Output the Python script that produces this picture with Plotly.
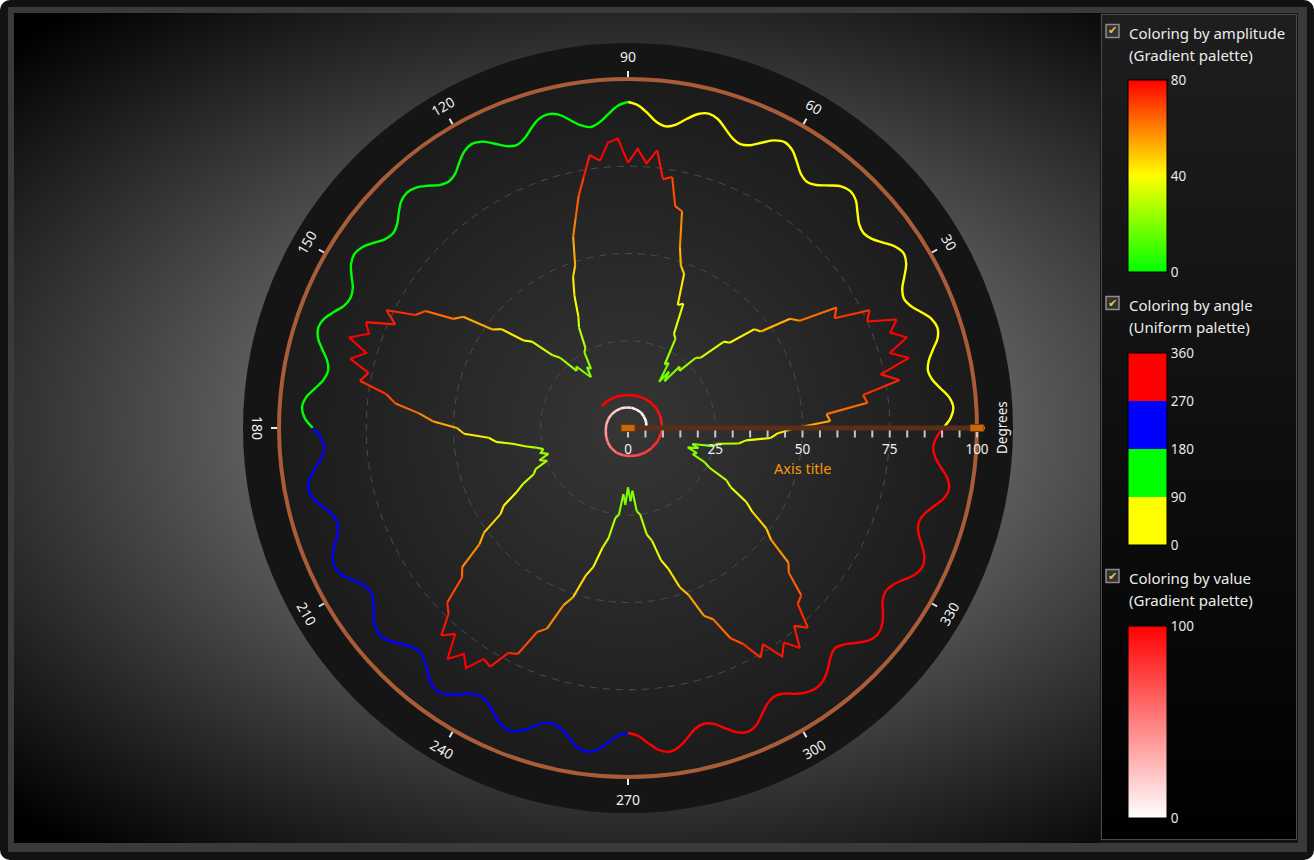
import base64
import math
import plotly.graph_objects as go

W, H = 1314, 860

# ---------------- data ----------------
# Flower-shaped series, coloured by amplitude (gradient palette 0..80)
flower_theta = list(range(0, 360, 2))
flower_r = [48, 58, 57, 69, 68, 79, 74, 83, 78, 84, 80, 83, 75, 77, 67, 69, 58, 56, 47, 46,
            38, 37, 29, 28, 22, 23, 17, 20, 16, 22, 21, 29, 30, 39, 38, 47, 49, 54, 64, 65,
            73, 72, 80, 76, 80, 76, 83, 82, 77, 79, 73, 68, 62, 57, 49, 46, 41, 35, 32, 26,
            25, 20, 21, 18, 20, 23, 22, 28, 30, 37, 39, 46, 48, 57, 59, 67, 69, 77, 73, 81,
            79, 84, 78, 82, 76, 78, 70, 67, 60, 56, 49, 47, 40, 38, 33, 30, 27, 25, 26, 24,
            27, 25, 29, 30, 34, 37, 42, 44, 51, 54, 62, 64, 72, 74, 80, 77, 84, 80, 83, 78,
            79, 73, 72, 64, 62, 54, 51, 44, 41, 35, 32, 26, 25, 19, 22, 17, 21, 18, 24, 25,
            31, 33, 39, 42, 48, 51, 58, 60, 67, 70, 76, 73, 79, 76, 80, 74, 77, 70, 69, 62,
            60, 52, 49, 43, 40, 34, 32, 26, 24, 20, 21, 18, 21, 19, 25, 26, 32, 34, 41, 43]

# Wavy ring series, coloured by angle (uniform palette 0/90/180/270/360), one value every 1.8 deg
wave_theta = [round(i * 1.8, 1) for i in range(200)]
wave_r = [90.3, 92.5, 93.4, 92.5, 90.3, 88.3, 87.5, 88.3,
          90.2, 92.4, 93.2, 92.4, 90.3, 88.2, 87.3, 88.2,
          90.4, 92.6, 93.5, 92.5, 90.4, 88.4, 87.6, 88.3,
          90.2, 92.3, 93.1, 92.3, 90.2, 88.1, 87.2, 88.1,
          90.3, 92.5, 93.4, 92.5, 90.4, 88.3, 87.5, 88.3,
          90.2, 92.2, 93.0, 92.2, 90.2, 88.0, 87.1, 88.0,
          90.3, 92.5, 93.4, 92.4, 90.1, 87.9, 86.9, 87.9,
          90.0, 92.1, 92.8, 92.1, 90.1, 88.0, 87.1, 88.0,
          90.1, 92.1, 92.9, 92.1, 90.2, 88.1, 87.3, 88.1,
          90.1, 91.8, 92.5, 91.9, 90.1, 88.2, 87.4, 88.2,
          90.2, 92.1, 92.9, 92.2, 90.4, 88.5, 87.8, 88.5,
          90.5, 92.5, 93.3, 92.5, 90.4, 88.3, 87.5, 88.3,
          90.4, 92.7, 93.6, 92.7, 90.3, 88.1, 87.2, 88.1,
          90.2, 92.4, 93.2, 92.4, 90.4, 88.4, 87.6, 88.4,
          90.3, 92.2, 93.0, 92.3, 90.2, 88.2, 87.4, 88.2,
          90.1, 91.9, 92.6, 91.9, 90.1, 88.4, 87.6, 88.4,
          90.2, 92.3, 93.1, 92.3, 90.4, 88.5, 87.7, 88.5,
          90.3, 92.3, 93.1, 92.3, 90.3, 88.2, 87.4, 88.2,
          90.3, 92.6, 93.5, 92.6, 90.3, 88.2, 87.4, 88.2,
          90.4, 92.6, 93.5, 92.6, 90.5, 88.3, 87.5, 88.3,
          90.5, 92.7, 93.6, 92.7, 90.4, 88.4, 87.6, 88.4,
          90.2, 91.5, 92.0, 91.4, 89.8, 87.7, 86.6, 87.7,
          89.9, 92.0, 92.8, 92.1, 90.3, 88.2, 87.4, 88.2,
          90.2, 92.4, 93.3, 92.5, 90.5, 88.4, 87.6, 88.4,
          90.4, 92.7, 93.6, 92.7, 90.4, 88.4, 87.6, 88.4]

# Small spiral near the centre, coloured by value (gradient palette 0..100)
spiral_theta = [5, 20, 35, 50, 65, 80, 95, 110, 125, 140, 155, 170, 185, 200, 215, 230, 245,
                260, 275, 290, 305, 320, 335, 350, 365, 380, 395, 410, 425, 440, 455, 470, 485, 500]
spiral_r = [5.3, 5.5, 5.6, 5.8, 5.8, 5.9, 5.9, 6.0, 6.0, 6.1, 6.2, 6.3, 6.4, 6.7, 7.1, 7.5, 7.8,
            7.95, 8.05, 8.3, 8.6, 8.9, 9.3, 9.6, 9.75, 9.85, 9.9, 9.8, 9.65, 9.55, 9.5, 9.6, 9.7, 9.8]
spiral_value = [0, 2, 4, 6, 8, 10, 12, 15, 19, 24, 29, 34, 40, 45, 50, 55, 60,
                64, 68, 72, 76, 80, 84, 88, 91, 94, 96, 98, 99, 100, 100, 100, 100, 100]

angle_labels = [30, 60, 90, 120, 150, 180, 210, 240, 270, 300, 330]
radial_ticks = list(range(0, 101, 5))
radial_major = [0, 25, 50, 75, 100]
grid_circles = [25, 50, 75]

amp_ticks = [0, 40, 80]
angle_ticks = [0, 90, 180, 270, 360]
value_ticks = [0, 100]

legend_titles = [("Coloring by amplitude", "(Gradient palette)"),
                 ("Coloring by angle", "(Uniform palette)"),
                 ("Coloring by value", "(Gradient palette)")]

# ---------------- geometry / style ----------------
CX, CY, R100 = 628, 428, 349
LABEL_R = 371
FONT = "Noto Sans, Open Sans, sans-serif"


def pxx(x):
    return x / W


def pxy(y):
    return 1 - y / H


def amp_rgb(t):
    t = max(0.0, min(1.0, t))
    if t <= 0.5:
        return (int(round(510 * t)), 255, 0)
    return (255, int(round(255 - 510 * (t - 0.5))), 0)


def value_rgb(t):
    t = max(0.0, min(1.0, t))
    g = int(round(255 * (1 - t)))
    return (255, g, g)


QUAD_COLORS = ["#ffff00", "#00ff00", "#0000ff", "#ff0000"]

amp_scale = [[0, "#00ff00"], [0.5, "#ffff00"], [0.75, "#ff8000"], [1, "#ff0000"]]
angle_scale = [[0, "#ffff00"], [0.25, "#ffff00"], [0.25, "#00ff00"], [0.5, "#00ff00"],
               [0.5, "#0000ff"], [0.75, "#0000ff"], [0.75, "#ff0000"], [1, "#ff0000"]]
value_scale = [[0, "#ffffff"], [1, "#ff0000"]]


def colored_runs(rs, ths, keys, closed):
    """Split a polyline into runs of consecutive segments sharing the same key."""
    pr = list(rs)
    pt = list(ths)
    if closed:
        pr.append(rs[0])
        pt.append(ths[0] + 360)
    groups = {}
    i = 0
    nseg = len(pr) - 1
    while i < nseg:
        k = keys[i]
        j = i
        while j + 1 < nseg and keys[j + 1] == k:
            j += 1
        g = groups.setdefault(k, {"r": [], "t": []})
        if g["r"]:
            g["r"].append(None)
            g["t"].append(None)
        g["r"].extend(pr[i:j + 2])
        g["t"].extend(pt[i:j + 2])
        i = j + 1
    return groups


fig = go.Figure()

# --- wavy ring coloured by angle quadrant ---
nw = len(wave_r)
wave_keys = []
for i in range(nw):
    t0 = wave_theta[i]
    t1 = wave_theta[i + 1] if i + 1 < nw else 360
    wave_keys.append(int(((t0 + t1) / 2) // 90) % 4)
for k, g in colored_runs(wave_r, wave_theta, wave_keys, True).items():
    fig.add_trace(go.Scatterpolar(r=g["r"], theta=g["t"], mode="lines",
                                  line=dict(color=QUAD_COLORS[k], width=2.4, shape="spline", smoothing=1),
                                  hoverinfo="skip", showlegend=False))

# --- flower coloured by amplitude ---
NB = 48
nf = len(flower_r)
flower_keys = []
for i in range(nf):
    v = (flower_r[i] + flower_r[(i + 1) % nf]) / 2
    flower_keys.append(int(round(max(0, min(1, v / 80)) * NB)))
for k, g in colored_runs(flower_r, flower_theta, flower_keys, True).items():
    c = amp_rgb(k / NB)
    fig.add_trace(go.Scatterpolar(r=g["r"], theta=g["t"], mode="lines",
                                  line=dict(color="rgb(%d,%d,%d)" % c, width=2.1),
                                  hoverinfo="skip", showlegend=False))

# --- spiral coloured by value ---
ns = len(spiral_r)
spiral_keys = []
for i in range(ns - 1):
    v = (spiral_value[i] + spiral_value[i + 1]) / 2
    spiral_keys.append(int(round(v / 100 * NB)))
for k, g in colored_runs(spiral_r, spiral_theta, spiral_keys, False).items():
    c = value_rgb(k / NB)
    fig.add_trace(go.Scatterpolar(r=g["r"], theta=g["t"], mode="lines",
                                  line=dict(color="rgb(%d,%d,%d)" % c, width=2.6),
                                  hoverinfo="skip", showlegend=False))


# --- colour bars (invisible marker traces) ---
def cbar(y_top, tickvals):
    return dict(x=pxx(1128), xanchor="left", y=pxy(y_top), yanchor="top",
                len=192, lenmode="pixels", thickness=39, thicknessmode="pixels",
                xpad=0, ypad=0, outlinewidth=1, outlinecolor="#000000",
                tickvals=tickvals, ticks="", ticklabelposition="outside",
                tickfont=dict(color="#e8e8e8", size=13.5, family=FONT),
                bgcolor="rgba(0,0,0,0)", borderwidth=0)


fig.add_trace(go.Scatterpolar(r=flower_r, theta=flower_theta, mode="markers",
                              marker=dict(size=1, opacity=0, color=flower_r, cmin=0, cmax=80,
                                          colorscale=amp_scale, showscale=True,
                                          colorbar=cbar(80, amp_ticks)),
                              hoverinfo="skip", showlegend=False))
fig.add_trace(go.Scatterpolar(r=wave_r, theta=wave_theta, mode="markers",
                              marker=dict(size=1, opacity=0, color=wave_theta, cmin=0, cmax=360,
                                          colorscale=angle_scale, showscale=True,
                                          colorbar=cbar(353, angle_ticks)),
                              hoverinfo="skip", showlegend=False))
fig.add_trace(go.Scatterpolar(r=spiral_r, theta=spiral_theta, mode="markers",
                              marker=dict(size=1, opacity=0, color=spiral_value, cmin=0, cmax=100,
                                          colorscale=value_scale, showscale=True,
                                          colorbar=cbar(626, value_ticks)),
                              hoverinfo="skip", showlegend=False))

# ---------------- background (SVG image) ----------------
svg = f"""<svg xmlns='http://www.w3.org/2000/svg' width='{W}' height='{H}' viewBox='0 0 {W} {H}' preserveAspectRatio='none'>
<defs>
<radialGradient id='bg' gradientUnits='userSpaceOnUse' cx='{CX}' cy='{CY}' r='879' gradientTransform='translate({CX} {CY}) scale(1 0.614) translate(-{CX} -{CY})'>
<stop offset='0' stop-color='#a2a2a2'/><stop offset='1' stop-color='#000000'/></radialGradient>
<radialGradient id='disc' gradientUnits='userSpaceOnUse' cx='{CX}' cy='{CY}' r='{R100}'>
<stop offset='0' stop-color='#363636'/><stop offset='1' stop-color='#1b1b1b'/></radialGradient>
<linearGradient id='leg' x1='0' y1='0' x2='0' y2='1'>
<stop offset='0' stop-color='#1e1e1e'/><stop offset='1' stop-color='#000000'/></linearGradient>
</defs>
<rect x='0' y='0' width='{W}' height='{H}' rx='10' ry='10' fill='#121212'/>
<rect x='8' y='7' width='1299' height='845' fill='#3a3a3a'/>
<rect x='14' y='13' width='1086' height='830' fill='url(#bg)'/>
<rect x='1100' y='13' width='198' height='830' fill='#141414'/>
<rect x='1101.5' y='14.5' width='195' height='825' fill='url(#leg)' stroke='#4a4a4a' stroke-width='1'/>
<circle cx='{CX}' cy='{CY}' r='385' fill='#151515'/>
<circle cx='{CX}' cy='{CY}' r='{R100}' fill='url(#disc)'/>
</svg>"""
svg_uri = "data:image/svg+xml;base64," + base64.b64encode(svg.encode("utf-8")).decode("ascii")

# ---------------- shapes ----------------
shapes = []
for gv in grid_circles:
    rp = R100 * gv / 100
    shapes.append(dict(type="circle", xref="paper", yref="paper",
                       x0=pxx(CX - rp), x1=pxx(CX + rp), y0=pxy(CY + rp), y1=pxy(CY - rp),
                       line=dict(color="#4c4c4c", width=1, dash="7px,6px"), layer="below"))
# radial axis end handles
for rv in (0, 100):
    xc = CX + R100 * rv / 100
    shapes.append(dict(type="rect", xref="paper", yref="paper",
                       x0=pxx(xc - 7), x1=pxx(xc + 7), y0=pxy(CY + 3.5), y1=pxy(CY - 3.5),
                       fillcolor="#c8680c", line=dict(color="#6e3608", width=1), layer="above"))
# legend check boxes
for yc in (31, 303, 576):
    shapes.append(dict(type="rect", xref="paper", yref="paper",
                       x0=pxx(1106), x1=pxx(1119), y0=pxy(yc + 6.5), y1=pxy(yc - 6.5),
                       fillcolor="#333333", line=dict(color="#8c8c8c", width=1.5), layer="above"))

# ---------------- annotations ----------------
ann = []
for a in angle_labels:
    rad = math.radians(a)
    x = CX + LABEL_R * math.cos(rad)
    y = CY - LABEL_R * math.sin(rad)
    rot = 90 - a if a < 180 else 270 - a
    ann.append(dict(x=pxx(x), y=pxy(y), xref="paper", yref="paper", text=str(a),
                    showarrow=False, textangle=rot, xanchor="center", yanchor="middle",
                    font=dict(color="#f0f0f0", size=14, family=FONT)))
ann.append(dict(x=pxx(1002), y=pxy(CY), xref="paper", yref="paper", text="Degrees",
                showarrow=False, textangle=-90, xanchor="center", yanchor="middle",
                font=dict(color="#f0f0f0", size=13.5, family=FONT)))
ann.append(dict(x=pxx(CX + R100 * 0.5), y=pxy(468), xref="paper", yref="paper", text="Axis title",
                showarrow=False, xanchor="center", yanchor="middle",
                font=dict(color="#f5960a", size=14.5, family=FONT)))
for (t1, t2), yc in zip(legend_titles, (33, 305, 578)):
    ann.append(dict(x=pxx(1127), y=pxy(yc), xref="paper", yref="paper", text=t1,
                    showarrow=False, xanchor="left", yanchor="middle",
                    font=dict(color="#ececec", size=15, family=FONT)))
    ann.append(dict(x=pxx(1127), y=pxy(yc + 22), xref="paper", yref="paper", text=t2,
                    showarrow=False, xanchor="left", yanchor="middle",
                    font=dict(color="#ececec", size=15, family=FONT)))
for yc in (31, 303, 576):
    ann.append(dict(x=pxx(1112.5), y=pxy(yc), xref="paper", yref="paper", text="✔",
                    showarrow=False, xanchor="center", yanchor="middle",
                    font=dict(color="#e8c44a", size=11, family="DejaVu Sans")))

fig.update_layout(
    width=W, height=H, autosize=False,
    margin=dict(l=0, r=0, t=0, b=0, pad=0),
    paper_bgcolor="#ffffff",
    showlegend=False,
    images=[dict(source=svg_uri, xref="paper", yref="paper", x=0, y=1, sizex=1, sizey=1,
                 xanchor="left", yanchor="top", sizing="stretch", layer="below")],
    shapes=shapes,
    annotations=ann,
    polar=dict(
        domain=dict(x=[pxx(CX - R100), pxx(CX + R100)], y=[pxy(CY + R100), pxy(CY - R100)]),
        bgcolor="rgba(0,0,0,0)",
        radialaxis=dict(range=[0, 100], angle=0, side="clockwise", showgrid=False,
                        showline=True, linecolor="#5b2e18", linewidth=5,
                        tickmode="array", tickvals=radial_ticks,
                        ticktext=[str(v) if v in radial_major else "" for v in radial_ticks],
                        ticks="outside", ticklen=7, tickwidth=2, tickcolor="#c8c8c8",
                        tickfont=dict(color="#f0f0f0", size=13.5, family=FONT),
                        layer="above traces"),
        angularaxis=dict(rotation=0, direction="counterclockwise", showgrid=False,
                         showline=True, linecolor="#a85d38", linewidth=4,
                         tickmode="linear", tick0=0, dtick=30,
                         ticks="outside", ticklen=6, tickwidth=2, tickcolor="#e8e8e8",
                         showticklabels=False, layer="above traces"),
    ),
)

fig.write_html("out.html", config={"displayModeBar": False},
               post_script="document.body.style.margin='0';document.body.style.overflow='hidden';")
